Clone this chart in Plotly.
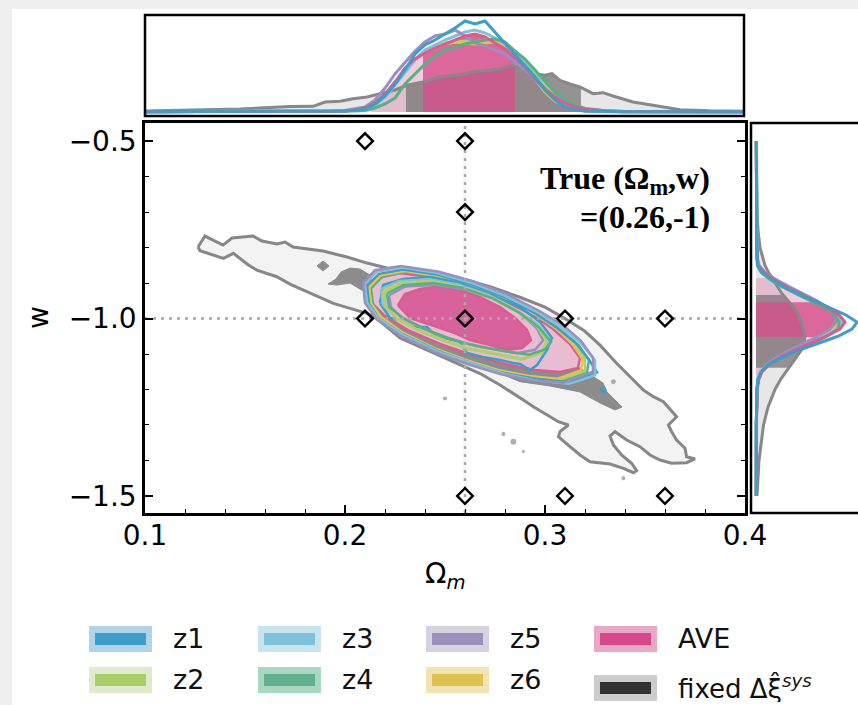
import numpy as np
import plotly.graph_objects as go

W, H = 858, 705
def PX(x): return x / W
def PY(y): return 1 - y / H

# ---------------- axis limits ----------------
om_range = [0.1, 0.4]
w_range = [-1.548, -0.449]
om_ticks = [0.1, 0.2, 0.3, 0.4]
om_ticktext = ["0.1", "0.2", "0.3", "0.4"]
w_ticks = [-0.5, -1.0, -1.5]
w_ticktext = ["\u22120.5", "\u22121.0", "\u22121.5"]

# ---------------- main panel data ----------------
grid_om = [0.21, 0.26, 0.26, 0.21, 0.26, 0.31, 0.36, 0.26, 0.31, 0.36]
grid_w = [-0.5, -0.5, -0.7, -1.0, -1.0, -1.0, -1.0, -1.5, -1.5, -1.5]
true_om, true_w = 0.26, -1.0

# fixed Delta xi^sys : 95% contour (outer gray)
fix95_om = [0.1265, 0.130, 0.134, 0.139, 0.1435, 0.154, 0.1585, 0.166, 0.170, 0.174, 0.189, 0.201, 0.211, 0.221,
            0.2375, 0.255, 0.2725, 0.2875, 0.300, 0.310, 0.320, 0.3275, 0.3358, 0.3442, 0.3492, 0.3542, 0.3592,
            0.3658, 0.3617, 0.3633, 0.3658, 0.370, 0.3708, 0.375, 0.3708, 0.3633, 0.3575, 0.3525, 0.3475, 0.3408,
            0.335, 0.3325, 0.3342, 0.3383, 0.3433, 0.3458, 0.3442, 0.3392, 0.3325, 0.3225, 0.3175, 0.3125, 0.3067,
            0.3075, 0.3117, 0.3067, 0.3008, 0.2942, 0.2892, 0.2842, 0.2775, 0.2675, 0.2475, 0.2275, 0.215, 0.2109,
            0.2025, 0.1942, 0.1792, 0.1725, 0.1659, 0.1559, 0.1517, 0.1442, 0.1392, 0.1275]
fix95_w = [-0.7986, -0.7676, -0.7789, -0.793, -0.773, -0.7676, -0.7817, -0.790, -0.7845, -0.7986, -0.8099, -0.8268,
           -0.8437, -0.8578, -0.862, -0.882, -0.910, -0.940, -0.968, -1.000, -1.036, -1.075, -1.1262, -1.1732,
           -1.2014, -1.2203, -1.2344, -1.2766, -1.300, -1.3189, -1.3423, -1.3656, -1.3893, -1.3958, -1.4062,
           -1.4079, -1.3986, -1.3845, -1.3611, -1.3423, -1.3189, -1.331, -1.3563, -1.3845, -1.4079, -1.4287,
           -1.4344, -1.422, -1.4099, -1.4034, -1.3845, -1.3611, -1.3329, -1.3189, -1.300, -1.2907, -1.2718,
           -1.2484, -1.2296, -1.2107, -1.1873, -1.155, -1.105, -1.055, -0.9958, -0.9854, -0.9713, -0.9572,
           -0.9197, -0.9028, -0.8822, -0.8634, -0.8493, -0.8163, -0.8304, -0.809]

# fixed Delta xi^sys : 68% regions (dark gray patches)
fix68a_om = [0.186, 0.189, 0.192, 0.189]
fix68a_w = [-0.852, -0.838, -0.852, -0.866]
fix68b_om = [0.1915, 0.1955, 0.198, 0.2025, 0.2075, 0.2125, 0.215, 0.21, 0.2025, 0.196]
fix68b_w = [-0.9028, -0.8887, -0.869, -0.8578, -0.8606, -0.8775, -0.9197, -0.9254, -0.90, -0.9056]
fix68c_om = [0.2135, 0.2275, 0.2525, 0.2775, 0.300, 0.315, 0.329, 0.331, 0.3385, 0.335, 0.3275, 0.3175, 0.3025,
             0.2875, 0.2675, 0.2475, 0.2275, 0.2165]
fix68c_w = [-0.9056, -0.9197, -0.962, -1.0183, -1.0746, -1.131, -1.1817, -1.207, -1.2493, -1.2577, -1.238,
            -1.207, -1.19, -1.178, -1.131, -1.0887, -1.0324, -0.9817]
fixdots_om = [0.25, 0.2792, 0.2842, 0.2892, 0.3342, 0.3392]
fixdots_w = [-1.225, -1.3254, -1.3471, -1.375, -1.178, -1.45]
fixdots_size = [5, 5, 7, 4, 6, 5]
z1dot_om, z1dot_w = [0.3292], [-1.2014]

# AVE contours
ave95_om = [0.2115, 0.2165, 0.2275, 0.246, 0.2625, 0.279, 0.294, 0.304, 0.3125, 0.3175, 0.3165, 0.3075, 0.295,
            0.280, 0.2635, 0.2475, 0.2315, 0.22, 0.2135]
ave95_w = [-0.9197, -0.8859, -0.8718, -0.8859, -0.9112, -0.9479, -0.9901, -1.0296, -1.0718, -1.1113, -1.1394,
           -1.1507, -1.1451, -1.1282, -1.1028, -1.0718, -1.0324, -0.993, -0.9563]
ave68_om = [0.2265, 0.230, 0.2375, 0.2475, 0.2575, 0.2675, 0.2775, 0.285, 0.291, 0.293, 0.2885, 0.280, 0.2725,
            0.2625, 0.255, 0.2475, 0.240, 0.2325]
ave68_w = [-0.962, -0.931, -0.9169, -0.9084, -0.9197, -0.9394, -0.9676, -0.9986, -1.0324, -1.0606, -1.0831,
           -1.0887, -1.0746, -1.0606, -1.0408, -1.0267, -1.0127, -0.9986]

# z-bin contours (95% outer lines)
z1_95_om = [0.211, 0.217, 0.229, 0.246, 0.263, 0.280, 0.295, 0.306, 0.316, 0.322, 0.326, 0.313, 0.296, 0.279, 0.262, 0.246, 0.229, 0.217, 0.212]
z1_95_w = [-0.908, -0.874, -0.862, -0.876, -0.903, -0.940, -0.985, -1.026, -1.072, -1.116, -1.152, -1.180, -1.170, -1.153, -1.124, -1.090, -1.045, -1.000, -0.958]
z2_95_om = [0.212, 0.218, 0.230, 0.246, 0.263, 0.281, 0.296, 0.307, 0.315, 0.320, 0.320, 0.307, 0.293, 0.278, 0.262, 0.245, 0.229, 0.218, 0.213]
z2_95_w = [-0.910, -0.876, -0.864, -0.879, -0.905, -0.942, -0.986, -1.027, -1.071, -1.114, -1.148, -1.173, -1.165, -1.148, -1.120, -1.086, -1.042, -0.998, -0.957]
z3_95_om = [0.210, 0.216, 0.229, 0.246, 0.263, 0.280, 0.296, 0.308, 0.318, 0.325, 0.325, 0.312, 0.296, 0.280, 0.263, 0.246, 0.229, 0.217, 0.211]
z3_95_w = [-0.903, -0.868, -0.856, -0.872, -0.899, -0.936, -0.981, -1.024, -1.070, -1.118, -1.160, -1.184, -1.175, -1.156, -1.125, -1.092, -1.046, -1.001, -0.955]
z4_95_om = [0.213, 0.219, 0.231, 0.248, 0.265, 0.282, 0.297, 0.308, 0.317, 0.322, 0.321, 0.309, 0.294, 0.279, 0.262, 0.246, 0.230, 0.219, 0.214]
z4_95_w = [-0.915, -0.880, -0.869, -0.884, -0.910, -0.947, -0.990, -1.032, -1.076, -1.118, -1.150, -1.176, -1.167, -1.150, -1.121, -1.087, -1.043, -0.999, -0.960]
z5_95_om = [0.209, 0.215, 0.228, 0.247, 0.264, 0.281, 0.297, 0.309, 0.318, 0.324, 0.324, 0.309, 0.293, 0.278, 0.261, 0.245, 0.228, 0.216, 0.210]
z5_95_w = [-0.900, -0.864, -0.852, -0.868, -0.895, -0.932, -0.978, -1.019, -1.063, -1.110, -1.150, -1.181, -1.174, -1.157, -1.128, -1.095, -1.049, -1.003, -0.956]
z6_95_om = [0.212, 0.218, 0.230, 0.247, 0.264, 0.280, 0.295, 0.306, 0.314, 0.319, 0.318, 0.306, 0.292, 0.277, 0.261, 0.245, 0.229, 0.218, 0.213]
z6_95_w = [-0.912, -0.878, -0.866, -0.881, -0.907, -0.944, -0.988, -1.030, -1.074, -1.116, -1.146, -1.170, -1.162, -1.146, -1.118, -1.084, -1.040, -0.996, -0.958]

# z-bin contours (68% inner lines)
z1_68_om = [0.2175, 0.219, 0.229, 0.2425, 0.2575, 0.2725, 0.2875, 0.2975, 0.3035, 0.301, 0.296, 0.2925, 0.2875, 0.284, 0.2775, 0.269, 0.261, 0.2575, 0.254, 0.246, 0.241, 0.234, 0.2275, 0.2225]
z1_68_w = [-0.9563, -0.9056, -0.8887, -0.883, -0.900, -0.931, -0.9676, -1.0099, -1.055, -1.0887, -1.131, -1.1451, -1.128, -1.1253, -1.1169, -1.1084, -1.0972, -1.0662, -1.0606, -1.052, -1.024, -1.024, -1.0042, -0.9986]
z2_68_om = [0.220, 0.228, 0.243, 0.258, 0.273, 0.286, 0.296, 0.301, 0.298, 0.288, 0.275, 0.262, 0.250, 0.237, 0.226, 0.220]
z2_68_w = [-0.925, -0.902, -0.896, -0.912, -0.941, -0.980, -1.022, -1.064, -1.098, -1.115, -1.101, -1.087, -1.064, -1.035, -1.002, -0.965]
z3_68_om = [0.218, 0.227, 0.242, 0.257, 0.272, 0.285, 0.296, 0.302, 0.299, 0.289, 0.276, 0.263, 0.250, 0.237, 0.226, 0.219]
z3_68_w = [-0.917, -0.894, -0.889, -0.905, -0.934, -0.973, -1.015, -1.058, -1.096, -1.114, -1.100, -1.086, -1.063, -1.034, -1.001, -0.962]
z4_68_om = [0.221, 0.229, 0.244, 0.259, 0.274, 0.287, 0.297, 0.303, 0.300, 0.292, 0.280, 0.266, 0.253, 0.240, 0.229, 0.222]
z4_68_w = [-0.930, -0.906, -0.900, -0.914, -0.943, -0.983, -1.025, -1.066, -1.087, -1.102, -1.092, -1.078, -1.058, -1.030, -0.998, -0.968]
z5_68_om = [0.222, 0.230, 0.245, 0.260, 0.275, 0.288, 0.296, 0.299, 0.295, 0.286, 0.274, 0.262, 0.250, 0.238, 0.228, 0.223]
z5_68_w = [-0.935, -0.910, -0.905, -0.918, -0.946, -0.986, -1.028, -1.062, -1.088, -1.098, -1.086, -1.072, -1.052, -1.026, -0.996, -0.968]
z6_68_om = [0.219, 0.228, 0.243, 0.258, 0.273, 0.286, 0.296, 0.301, 0.298, 0.288, 0.275, 0.262, 0.250, 0.237, 0.226, 0.220]
z6_68_w = [-0.922, -0.899, -0.894, -0.910, -0.939, -0.978, -1.020, -1.063, -1.096, -1.113, -1.099, -1.085, -1.062, -1.033, -1.000, -0.964]

# ---------------- marginal 1D posteriors ----------------
# Omega_m (top panel)
fix_top_om = [0.10, 0.1275, 0.1475, 0.1625, 0.1725, 0.184, 0.19, 0.1975, 0.204, 0.211, 0.2175, 0.225, 0.231, 0.239,
              0.2475, 0.256, 0.264, 0.2725, 0.2775, 0.284, 0.289, 0.294, 0.300, 0.3035, 0.3075, 0.3125, 0.3175,
              0.324, 0.329, 0.334, 0.344, 0.354, 0.3675, 0.3825, 0.40]
fix_top_p = [1, 2, 3, 4.5, 5.5, 5.7, 10, 10.7, 13.3, 15, 18.3, 22, 26.7, 30, 35, 36.7, 40, 41.5, 43, 46.5, 44, 38.3,
             36.7, 38.3, 31.7, 28, 25, 18.3, 19.3, 16, 10, 6.7, 2.3, 1.2, 0.8]
top_om = [0.10, 0.15, 0.19, 0.20, 0.205, 0.21, 0.215, 0.22, 0.225, 0.23, 0.235, 0.24, 0.245, 0.25, 0.255, 0.26,
          0.265, 0.27, 0.275, 0.28, 0.285, 0.29, 0.295, 0.30, 0.305, 0.31, 0.315, 0.32, 0.33, 0.34, 0.40]
ave_top_p = [0.3, 0.3, 0.5, 1, 2, 4, 9, 18, 30, 44, 53, 59, 64, 68, 72, 76, 78, 75, 69, 63, 54, 45, 33, 23, 15, 9, 5, 3, 1.2, 0.6, 0.3]
z1_top_p = [0.3, 0.3, 0.5, 1, 1.8, 3, 8, 16, 28, 42, 58, 67, 72, 78, 84, 91, 88, 91, 80, 68, 57, 47, 35, 22, 12, 5, 2.2, 1, 0.5, 0.3, 0.3]
z2_top_p = [0.3, 0.3, 0.5, 1, 2, 3, 7, 15, 28, 42, 52, 60, 64, 68, 70, 71, 70, 72, 71, 66, 60, 50, 38, 26, 15, 8, 3.5, 1.5, 0.6, 0.3, 0.3]
z3_top_p = [0.3, 0.3, 0.5, 1, 2, 3, 7, 15, 27, 40, 52, 62, 67, 72, 76, 80, 82, 79, 74, 68, 58, 48, 36, 24, 14, 7, 3, 1.3, 0.5, 0.3, 0.3]
z4_top_p = [0.3, 0.3, 0.4, 0.5, 1, 1.5, 4, 8, 14, 28, 38, 48, 56, 62, 65, 68, 70, 72, 73, 70, 61, 53, 42, 31, 20, 13, 7, 3.5, 1.2, 0.5, 0.3]
z5_top_p = [0.3, 0.3, 0.6, 1.5, 3, 5, 12, 24, 38, 50, 61, 70, 76, 78, 82, 76, 69, 66, 62, 58, 50, 42, 33, 22, 13, 6, 2.5, 1, 0.5, 0.3, 0.3]
z6_top_p = [0.3, 0.3, 0.5, 1, 2, 3.5, 8, 17, 30, 42, 53, 61, 66, 69, 70, 69, 68, 69, 70, 65, 57, 44, 33, 20, 11, 6, 3, 1.5, 0.6, 0.3, 0.3]

# w (right panel)
side_w = [-0.50, -0.60, -0.70, -0.75, -0.80, -0.83, -0.85, -0.87, -0.89, -0.91, -0.93, -0.95, -0.97, -0.99, -1.01,
          -1.03, -1.05, -1.07, -1.09, -1.11, -1.13, -1.15, -1.17, -1.20, -1.25, -1.30, -1.40, -1.50]
fix_side_p = [0.5, 0.8, 1, 2, 4, 7, 9, 12.5, 17, 22, 26, 32, 38, 42, 45, 47, 49, 48, 45, 40, 35, 30, 25, 19, 12, 7.5, 3, 1]
ave_side_p = [0.3, 0.3, 0.3, 0.5, 0.8, 1.2, 2, 8, 18, 30, 44, 58, 72, 83, 89, 84, 70, 54, 38, 24, 13, 6, 3, 1.2, 0.6, 0.4, 0.3, 0.3]
z1_side_p = [0.3, 0.3, 0.3, 0.4, 0.6, 1, 1.5, 6, 16, 28, 42, 58, 75, 90, 101, 96, 82, 62, 42, 26, 12, 5, 2, 1, 0.5, 0.3, 0.3, 0.3]
z2_side_p = [0.3, 0.3, 0.3, 0.5, 0.8, 1.2, 2, 7, 17, 30, 45, 60, 73, 82, 84, 79, 66, 50, 35, 22, 11, 5, 2, 1, 0.5, 0.3, 0.3, 0.3]
z3_side_p = [0.3, 0.3, 0.3, 0.5, 0.8, 1.2, 2, 7, 17, 30, 44, 59, 73, 83, 86, 81, 68, 52, 36, 22, 12, 5, 2, 1, 0.5, 0.3, 0.3, 0.3]
z4_side_p = [0.3, 0.3, 0.3, 0.4, 0.6, 1, 1.5, 5, 14, 26, 40, 55, 69, 79, 83, 82, 71, 55, 39, 25, 13, 6, 2.5, 1, 0.5, 0.3, 0.3, 0.3]
z5_side_p = [0.3, 0.3, 0.3, 0.5, 0.8, 1.5, 3, 9, 20, 33, 47, 61, 72, 79, 80, 74, 62, 47, 33, 21, 11, 5, 2, 1, 0.5, 0.3, 0.3, 0.3]
z6_side_p = [0.3, 0.3, 0.3, 0.5, 0.8, 1.3, 2.5, 8, 19, 32, 46, 60, 72, 80, 81, 76, 64, 49, 34, 21, 11, 5, 2, 1, 0.5, 0.3, 0.3, 0.3]

# credible intervals used for shading
fix68_om_int, fix95_om_int = [0.2305, 0.318], [0.16, 0.37]
ave68_om_int, ave95_om_int = [0.239, 0.285], [0.2133, 0.33]
fix68_w_int, fix95_w_int = [-1.139, -0.934], [-1.37, -0.785]
ave68_w_int, ave95_w_int = [-1.052, -0.954], [-1.16, -0.886]

# ---------------- styles ----------------
C = {"z1": "#3c9ec9", "z2": "#a8d26a", "z3": "#7dc3dc", "z4": "#55b283",
     "z5": "#9a8fc0", "z6": "#e4c24c", "AVE": "#df5a8f", "fix": "#888888"}
legend_items = [("z1", "#3d9dcb", "#b0d4e7"), ("z2", "#a9cf6b", "#dfeccb"),
                ("z3", "#7fc1da", "#c8e5ef"), ("z4", "#62b08c", "#a8d8c0"),
                ("z5", "#9c8fbb", "#d6d2e0"), ("z6", "#dec24f", "#f1e3b3"),
                ("AVE", "#d6488a", "#e9a8c6"), ("fixed \u0394\u03be\u0302<sup><i>sys</i></sup>", "#333333", "#cccccc")]

TICKFONT = dict(family="DejaVu Sans", size=28, color="black")


def closed(a):
    return list(a) + [a[0]]


def band(xs, ys, lo, hi):
    xs = np.asarray(xs, float)
    ys = np.asarray(ys, float)
    o = np.argsort(xs)
    xs, ys = xs[o], ys[o]
    m = (xs > lo) & (xs < hi)
    bx = np.concatenate([[lo], xs[m], [hi]])
    by = np.concatenate([[np.interp(lo, xs, ys)], ys[m], [np.interp(hi, xs, ys)]])
    return bx, by


fig = go.Figure()

# ---------- main panel ----------
def poly(om, w, fill, line, lw, xa="x", ya="y"):
    fig.add_trace(go.Scatter(x=closed(om), y=closed(w), mode="lines", fill="toself", fillcolor=fill,
                             line=dict(color=line, width=lw), xaxis=xa, yaxis=ya, hoverinfo="skip"))


def cline(om, w, color, lw=2.5):
    fig.add_trace(go.Scatter(x=closed(om), y=closed(w), mode="lines", line=dict(color=color, width=lw),
                             hoverinfo="skip"))


poly(fix95_om, fix95_w, "#f3f3f3", "#878787", 3)
poly(fix68a_om, fix68a_w, "#8c8c8c", "#8c8c8c", 1)
poly(fix68b_om, fix68b_w, "#8c8c8c", "#8c8c8c", 1)
poly(fix68c_om, fix68c_w, "#8c8c8c", "#8c8c8c", 1)
fig.add_trace(go.Scatter(x=fixdots_om, y=fixdots_w, mode="markers",
                         marker=dict(color="#8c8c8c", size=fixdots_size), hoverinfo="skip"))
fig.add_trace(go.Scatter(x=z1dot_om, y=z1dot_w, mode="markers",
                         marker=dict(color=C["z1"], size=6), hoverinfo="skip"))
poly(ave95_om, ave95_w, "#e8bdd1", C["AVE"], 2.5)
cline(z4_95_om, z4_95_w, C["z4"])
cline(z2_95_om, z2_95_w, C["z2"])
cline(z6_95_om, z6_95_w, C["z6"])
cline(z1_95_om, z1_95_w, C["z1"])
cline(z3_95_om, z3_95_w, C["z3"])
cline(z5_95_om, z5_95_w, C["z5"])
poly(ave68_om, ave68_w, "#d8629b", C["AVE"], 2.5)
cline(z1_68_om, z1_68_w, C["z1"])
cline(z5_68_om, z5_68_w, C["z5"])
cline(z3_68_om, z3_68_w, C["z3"])
cline(z6_68_om, z6_68_w, C["z6"])
cline(z2_68_om, z2_68_w, C["z2"])
cline(z4_68_om, z4_68_w, C["z4"])

# true-value guide lines
fig.add_trace(go.Scatter(x=[true_om, true_om], y=w_range, mode="lines",
                         line=dict(color="#a9a9a9", width=2.5, dash="3px,5px"), hoverinfo="skip"))
fig.add_trace(go.Scatter(x=om_range, y=[true_w, true_w], mode="lines",
                         line=dict(color="#a9a9a9", width=2.5, dash="3px,5px"), hoverinfo="skip"))
# simulation grid
fig.add_trace(go.Scatter(x=grid_om, y=grid_w, mode="markers",
                         marker=dict(symbol="diamond-open", size=12, color="black", line=dict(width=2.5, color="black")),
                         hoverinfo="skip"))

# ---------- top marginal (Omega_m) ----------
def top_fill(xs, ys, iv, color):
    bx, by = band(xs, ys, iv[0], iv[1])
    fig.add_trace(go.Scatter(x=bx, y=by, mode="lines", fill="tozeroy", fillcolor=color, line=dict(width=0),
                             xaxis="x2", yaxis="y2", hoverinfo="skip"))


def top_line(xs, ys, color, lw=3):
    fig.add_trace(go.Scatter(x=xs, y=ys, mode="lines", line=dict(color=color, width=lw),
                             xaxis="x2", yaxis="y2", hoverinfo="skip"))


top_fill(fix_top_om, fix_top_p, fix95_om_int, "rgba(170,170,170,0.28)")
top_fill(top_om, ave_top_p, ave95_om_int, "rgba(222,120,165,0.38)")
top_fill(fix_top_om, fix_top_p, fix68_om_int, "rgba(115,115,115,0.72)")
top_fill(top_om, ave_top_p, ave68_om_int, "rgba(214,80,140,0.82)")
top_line(fix_top_om, fix_top_p, C["fix"])
top_line(top_om, z2_top_p, C["z2"])
top_line(top_om, z6_top_p, C["z6"])
top_line(top_om, z3_top_p, C["z3"])
top_line(top_om, z5_top_p, C["z5"])
top_line(top_om, z4_top_p, C["z4"])
top_line(top_om, ave_top_p, C["AVE"])
top_line(top_om, z1_top_p, C["z1"])

# ---------- right marginal (w) ----------
def side_fill(ws, ps, iv, color):
    bw, bp = band(ws, ps, iv[0], iv[1])
    fig.add_trace(go.Scatter(x=bp, y=bw, mode="lines", fill="tozerox", fillcolor=color, line=dict(width=0),
                             xaxis="x3", yaxis="y3", hoverinfo="skip"))


def side_line(ws, ps, color, lw=3):
    fig.add_trace(go.Scatter(x=ps, y=ws, mode="lines", line=dict(color=color, width=lw),
                             xaxis="x3", yaxis="y3", hoverinfo="skip"))


side_fill(side_w, fix_side_p, fix95_w_int, "rgba(170,170,170,0.28)")
side_fill(side_w, ave_side_p, ave95_w_int, "rgba(222,120,165,0.38)")
side_fill(side_w, fix_side_p, fix68_w_int, "rgba(115,115,115,0.72)")
side_fill(side_w, ave_side_p, ave68_w_int, "rgba(214,80,140,0.82)")
side_line(side_w, fix_side_p, C["fix"])
side_line(side_w, z2_side_p, C["z2"])
side_line(side_w, z6_side_p, C["z6"])
side_line(side_w, z3_side_p, C["z3"])
side_line(side_w, z5_side_p, C["z5"])
side_line(side_w, z4_side_p, C["z4"])
side_line(side_w, ave_side_p, C["AVE"])
side_line(side_w, z1_side_p, C["z1"])

# ---------------- layout ----------------
main_xdom = [PX(145), PX(745)]
main_ydom = [PY(513), PY(123)]

fig.update_layout(
    width=W, height=H, autosize=False,
    margin=dict(l=0, r=0, t=0, b=0, pad=0, autoexpand=False),
    paper_bgcolor="#f0f0f0", plot_bgcolor="white",
    showlegend=False,
    xaxis=dict(domain=main_xdom, range=om_range, anchor="y", tickvals=om_ticks, ticktext=om_ticktext,
               ticks="inside", ticklen=8, tickwidth=1.5, tickcolor="black", tickfont=TICKFONT,
               ticklabelstandoff=-4, automargin=False,
               minor=dict(dtick=0.02, tick0=0.1, ticks="inside", ticklen=4, tickwidth=1.3, tickcolor="black"),
               showline=True, linewidth=2.5, linecolor="black", mirror=True,
               showgrid=False, zeroline=False),
    yaxis=dict(domain=main_ydom, range=w_range, anchor="x", tickvals=w_ticks, ticktext=w_ticktext,
               ticks="inside", ticklen=8, tickwidth=1.5, tickcolor="black", tickfont=TICKFONT,
               ticklabelstandoff=0, automargin=False,
               minor=dict(dtick=0.1, tick0=-0.5, ticks="inside", ticklen=4, tickwidth=1.3, tickcolor="black"),
               showline=True, linewidth=2.5, linecolor="black", mirror="allticks",
               showgrid=False, zeroline=False),
    xaxis2=dict(domain=main_xdom, range=om_range, anchor="y2", showticklabels=False, ticks="", automargin=False,
                showline=False, showgrid=False, zeroline=False),
    yaxis2=dict(domain=[PY(116), PY(15)], range=[-4, 97], anchor="x2", showticklabels=False, ticks="",
                automargin=False, showline=False, showgrid=False, zeroline=False),
    xaxis3=dict(domain=[PX(751), 1.0], range=[-5, 102], anchor="y3", showticklabels=False, ticks="",
                automargin=False, showline=False, showgrid=False, zeroline=False),
    yaxis3=dict(domain=main_ydom, range=w_range, anchor="x3", showticklabels=False, ticks="",
                automargin=False, showline=False, showgrid=False, zeroline=False),
)

shapes = [
    dict(type="rect", xref="paper", yref="paper", x0=PX(12), x1=1.2, y0=-0.2, y1=PY(9),
         fillcolor="white", line=dict(width=0), layer="below"),
    # top marginal frame
    dict(type="rect", xref="paper", yref="paper", x0=PX(145), x1=PX(744), y0=PY(116), y1=PY(15),
         fillcolor="rgba(0,0,0,0)", line=dict(color="black", width=2.5), layer="above"),
    # right marginal frame (cut by the picture edge)
    dict(type="rect", xref="paper", yref="paper", x0=PX(751), x1=PX(920), y0=PY(513), y1=PY(123),
         fillcolor="rgba(0,0,0,0)", line=dict(color="black", width=2.5), layer="above"),
]

annotations = [
    dict(text="<b>True (\u03a9<sub>m</sub>,w)</b>", x=PX(712), y=PY(180), xref="paper", yref="paper",
         xanchor="right", yanchor="middle", showarrow=False, height=30,
         font=dict(family="Liberation Serif", size=32, color="black")),
    dict(text="<b>=(0.26,-1)</b>", x=PX(712), y=PY(217), xref="paper", yref="paper",
         xanchor="right", yanchor="middle", showarrow=False, height=30,
         font=dict(family="Liberation Serif", size=32, color="black")),
    dict(text="w", x=PX(38), y=PY(318), xref="paper", yref="paper", textangle=-90,
         xanchor="center", yanchor="middle", showarrow=False, font=TICKFONT),
    dict(text="\u03a9<sub><i>m</i></sub>", x=PX(445), y=PY(575), xref="paper", yref="paper",
         xanchor="center", yanchor="middle", showarrow=False, font=TICKFONT),
]

# legend (drawn manually: 4 columns x 2 rows)
col_x = [89, 89, 258, 258, 426, 426, 594, 594]
row_y = [626, 667, 626, 667, 626, 667, 626, 675]
for i, ((label, inner, outer), x0, y0) in enumerate(zip(legend_items, col_x, row_y)):
    shapes.append(dict(type="rect", xref="paper", yref="paper", x0=PX(x0), x1=PX(x0 + 63),
                       y0=PY(y0 + 26), y1=PY(y0), fillcolor=outer, line=dict(width=0)))
    shapes.append(dict(type="rect", xref="paper", yref="paper", x0=PX(x0 + 6), x1=PX(x0 + 57),
                       y0=PY(y0 + 19), y1=PY(y0 + 7), fillcolor=inner, line=dict(width=0)))
    annotations.append(dict(text=label, x=PX(x0 + 82), y=PY(y0 + 12), xref="paper", yref="paper",
                            xanchor="left", yanchor="middle", showarrow=False,
                            height=30 if i == 7 else None,
                            font=dict(family="DejaVu Sans", size=26 if i == 7 else 27, color="#111111")))

fig.update_layout(shapes=shapes, annotations=annotations)

fig.write_html("out.html", include_plotlyjs=True, config={"displayModeBar": False})
